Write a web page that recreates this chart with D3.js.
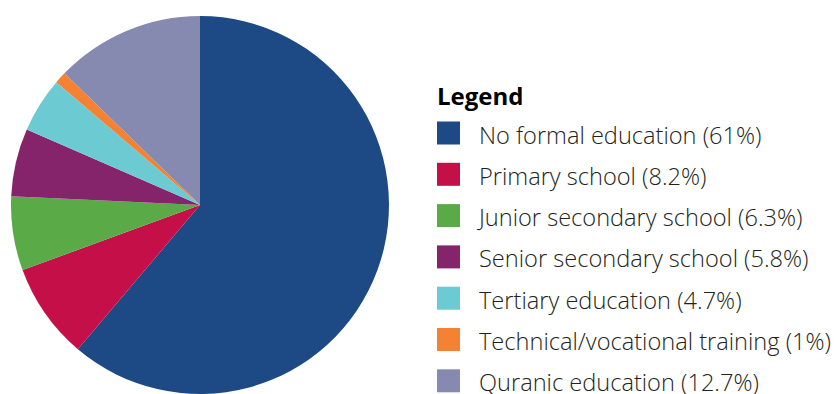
<!DOCTYPE html>
<html>
<head>
<meta charset="utf-8">
<script src="https://cdn.jsdelivr.net/npm/d3@7"></script>
<style>
  html, body { margin: 0; padding: 0; background: #fff; }
  svg { display: block; }
  text { font-family: "Open Sans", "Noto Sans", sans-serif; }
</style>
</head>
<body>
<svg id="chart" width="839" height="394"></svg>
<script>
// Highest level of education attained
const categories = [
  "No formal education",
  "Primary school",
  "Junior secondary school",
  "Senior secondary school",
  "Tertiary education",
  "Technical/vocational training",
  "Quranic education"
];
const shares = [61, 8.2, 6.3, 5.8, 4.7, 1, 12.7];
const shareLabels = ["61%", "8.2%", "6.3%", "5.8%", "4.7%", "1%", "12.7%"];
const colors = ["#1d4a85", "#c40f48", "#5aab48", "#85246b", "#6ccbd2", "#f58232", "#868ab1"];

const svg = d3.select("#chart");
const cx = 200, cy = 205, radius = 189;

const color = d3.scaleOrdinal().domain(categories).range(colors);
const pie = d3.pie().sort(null).value(d => d.value);
const arc = d3.arc().innerRadius(0).outerRadius(radius);

const data = categories.map((c, i) => ({ name: c, value: shares[i], label: shareLabels[i] }));

svg.append("g")
  .attr("transform", `translate(${cx},${cy})`)
  .selectAll("path")
  .data(pie(data))
  .join("path")
  .attr("d", arc)
  .attr("fill", d => color(d.data.name));

// Legend
const legend = svg.append("g").attr("transform", "translate(437,0)");
legend.append("text")
  .attr("x", 0).attr("y", 105)
  .attr("font-size", 24).attr("font-weight", 700)
  .attr("fill", "#000")
  .text("Legend");

const rowY = d3.scaleLinear().domain([0, 1]).range([121.5, 162.8]);
const rows = legend.selectAll("g.row")
  .data(data)
  .join("g")
  .attr("class", "row")
  .attr("transform", (d, i) => `translate(0,${rowY(i)})`);
rows.append("rect")
  .attr("width", 23).attr("height", 23)
  .attr("fill", d => color(d.name));
rows.append("text")
  .attr("x", 42).attr("y", 22)
  .attr("font-size", 23.6)
  .attr("font-weight", 300)
  .attr("fill", "#231f20")
  .text(d => `${d.name} (${d.label})`);
</script>
</body>
</html>
